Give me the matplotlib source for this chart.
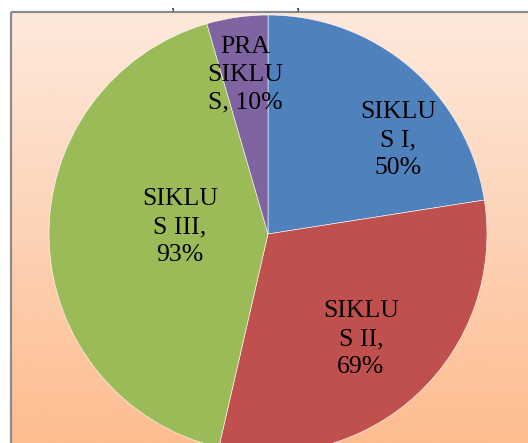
import numpy as np
import matplotlib.pyplot as plt
from matplotlib.colors import LinearSegmentedColormap

labels = ['SIKLU\nS I,\n50%', 'SIKLU\nS II,\n69%', 'SIKLU\nS III,\n93%', 'PRA\nSIKLU\nS, 10%']
values = [50, 69, 93, 10]
colors = ['#4F81BD', '#C0504D', '#9BBB59', '#8064A2']
# label centres in pixel units (x right, y up)
label_pos = [(398, 303), (361, 104), (180, 216), (245, 368)]

W, H = 528, 443
fig = plt.figure(figsize=(W / 100, H / 100), dpi=100)
fig.patch.set_facecolor('white')
ax = fig.add_axes([0, 0, 1, 1])

# gradient chart area
cmap = LinearSegmentedColormap.from_list('bg', ['#FDE9DD', '#FDBD90'])
grad = np.linspace(0, 1, 256).reshape(-1, 1)
ax.imshow(grad, cmap=cmap, extent=[12, W, 0, H - 13], aspect='auto', origin='upper', zorder=0)
ax.plot([11, 11], [0, H - 12], color='#8C8C8C', lw=1.6, zorder=1, solid_capstyle='butt')
ax.plot([11, W], [H - 12, H - 12], color='#8C8C8C', lw=1.6, zorder=1, solid_capstyle='butt')

ax.pie(values, colors=colors, startangle=90, counterclock=False,
       center=(268, 209), radius=219, frame=True,
       wedgeprops=dict(edgecolor='white', linewidth=0.4, zorder=2))

for lab, (x, y) in zip(labels, label_pos):
    ax.text(x, y, lab, ha='center', va='center', fontsize=18.5,
            family='Liberation Serif', linespacing=1.35, zorder=3)

# cut-off title fragments at the very top
for x in [172, 297]:
    ax.text(x, H - 10, ',', ha='center', va='baseline', fontsize=12,
            family='Liberation Serif', color='#333333', zorder=3)

ax.set_xlim(0, W)
ax.set_ylim(0, H)
ax.set_aspect('auto')
ax.axis('off')

fig.savefig('out.png', dpi=100, facecolor='white')
